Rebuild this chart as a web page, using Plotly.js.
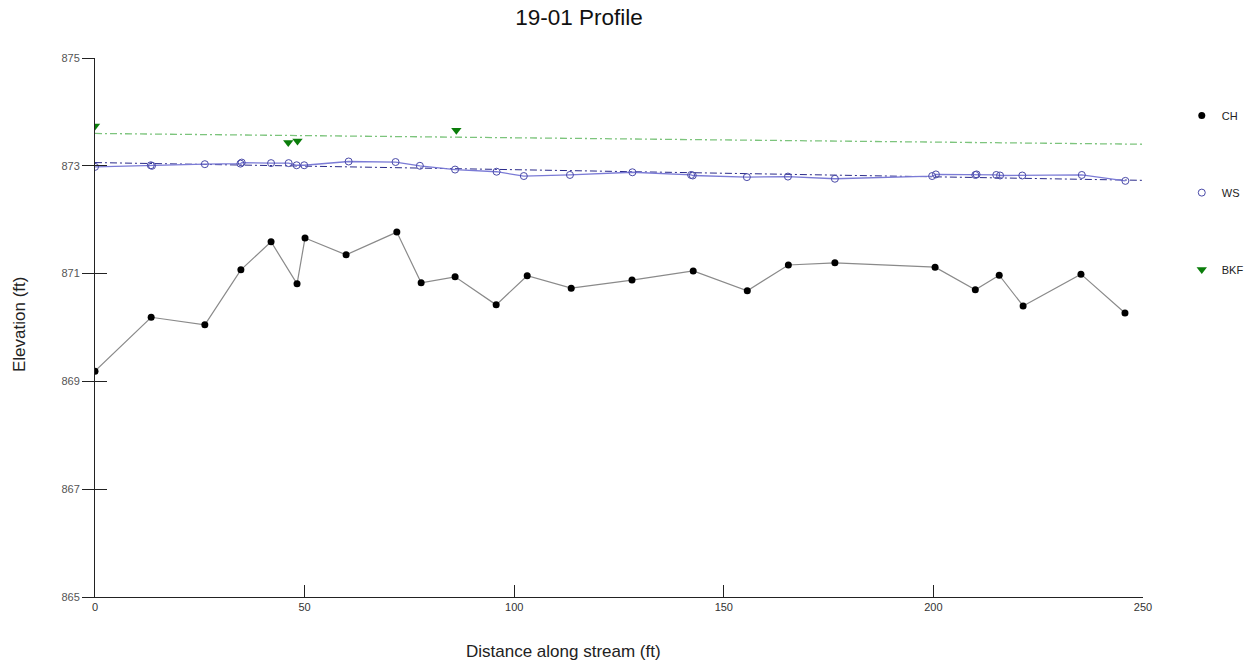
<!DOCTYPE html>
<html>
<head>
<meta charset="utf-8">
<script src="https://cdn.plot.ly/plotly-3.0.1.min.js"></script>
<style>body{margin:0;background:#fff}#chart{width:1247px;height:665px}</style>
</head>
<body>
<div id="chart"></div>
<script>
// Channel bed (CH)
const chX = [0, 13.4, 26.2, 34.8, 42.0, 48.2, 50.1, 59.9, 72.0, 77.8, 85.9, 95.7, 103.1, 113.6, 128.1, 142.7, 155.6, 165.4, 176.5, 200.4, 210.0, 215.7, 221.4, 235.2, 245.7];
const chY = [869.19, 870.19, 870.05, 871.07, 871.59, 870.81, 871.66, 871.35, 871.77, 870.83, 870.94, 870.42, 870.96, 870.73, 870.88, 871.05, 870.68, 871.16, 871.20, 871.12, 870.70, 870.97, 870.40, 870.99, 870.27];
// Water surface (WS)
const wsX = [0, 13.3, 13.6, 26.2, 34.7, 35.0, 42.0, 46.2, 48.1, 49.9, 60.5, 71.7, 77.5, 85.9, 95.8, 102.3, 113.3, 128.2, 142.2, 142.6, 155.5, 165.3, 176.5, 199.7, 200.6, 210.0, 210.3, 215.0, 215.9, 221.2, 235.4, 245.8];
const wsY = [872.98, 873.01, 873.00, 873.03, 873.04, 873.06, 873.05, 873.05, 873.01, 873.01, 873.08, 873.07, 873.00, 872.93, 872.89, 872.81, 872.83, 872.88, 872.83, 872.82, 872.79, 872.80, 872.76, 872.81, 872.84, 872.83, 872.84, 872.83, 872.82, 872.82, 872.83, 872.72];
// Bankfull (BKF)
const bkfX = [0, 46.1, 48.3, 86.2];
const bkfY = [873.74, 873.43, 873.46, 873.66];
// Trend lines
const trendX = [0, 250];
const wsTrendY = [873.06, 872.73];
const bkfTrendY = [873.60, 873.40];
// Axis ticks
const xTicks = [0, 50, 100, 150, 200, 250];
const yTicks = [865, 867, 869, 871, 873, 875];

const font = 'Liberation Sans, Arial, sans-serif';

const traces = [
  {x: trendX, y: bkfTrendY, mode: 'lines', showlegend: false, hoverinfo: 'skip',
   line: {color: '#7cc47c', width: 1.3, dash: '7px,3px,2px,3px'}},
  {x: trendX, y: wsTrendY, mode: 'lines', showlegend: false, hoverinfo: 'skip',
   line: {color: '#2a2a8a', width: 1, dash: '7px,3px,2px,3px'}},
  {x: chX, y: chY, mode: 'lines', showlegend: false, hoverinfo: 'skip',
   line: {color: '#8a8a8a', width: 1.2}},
  {x: wsX, y: wsY, mode: 'lines', showlegend: false, hoverinfo: 'skip',
   line: {color: '#7b7bd6', width: 1.3}},
  {x: chX, y: chY, name: 'CH', mode: 'markers', legendgroup: 'a',
   marker: {color: '#000000', size: 7, symbol: 'circle'}},
  {x: wsX, y: wsY, name: 'WS', mode: 'markers', legendgroup: 'b',
   marker: {color: '#4a4aa8', size: 7, symbol: 'circle-open', line: {width: 1}}},
  {x: bkfX, y: bkfY, name: 'BKF', mode: 'markers', legendgroup: 'c',
   marker: {color: '#0a7d0a', size: 9, symbol: 'triangle-down'}},
  {x: [null], y: [null], yaxis: 'y2', showlegend: false, hoverinfo: 'skip', mode: 'markers'}
];

const layout = {
  width: 1247, height: 665,
  margin: {l: 95, r: 104, t: 58, b: 68, autoexpand: false},
  paper_bgcolor: '#ffffff', plot_bgcolor: '#ffffff',
  font: {family: font, color: '#444', size: 11},
  title: {text: '19-01 Profile', font: {family: font, size: 22.5, color: '#111'},
          x: 579/1247, xref: 'container', xanchor: 'center', y: 1 - 17/665, yref: 'container', yanchor: 'middle'},
  xaxis: {range: [0, 250], tickvals: xTicks, ticktext: xTicks.map(String),
          showgrid: false, zeroline: false, showline: true, linecolor: '#222', linewidth: 1,
          ticks: 'inside', ticklen: 12, tickcolor: '#222', tickwidth: 1,
          tickfont: {family: font, size: 11, color: '#333'}},
  yaxis: {range: [865, 875], tickvals: yTicks, ticktext: yTicks.map(String),
          showgrid: false, zeroline: false, showline: true, linecolor: '#222', linewidth: 1,
          ticks: 'outside', ticklen: 12, tickcolor: '#222', tickwidth: 1,
          tickfont: {family: font, size: 11, color: '#555'}},
  yaxis2: {range: [865, 875], overlaying: 'y', side: 'left', tickvals: yTicks,
           showticklabels: false, showgrid: false, zeroline: false, showline: false,
           ticks: 'inside', ticklen: 12, tickcolor: '#222', tickwidth: 1},
  showlegend: true,
  legend: {x: 1.037, y: 0.92, xanchor: 'left', yanchor: 'top', tracegroupgap: 58,
           font: {family: font, size: 11, color: '#222'}, bgcolor: 'rgba(0,0,0,0)'},
  annotations: [
    {text: 'Distance along stream (ft)', xref: 'paper', yref: 'paper',
     x: (563 - 95) / 1048, y: -(651 - 597) / 539, xanchor: 'center', yanchor: 'middle',
     showarrow: false, font: {family: font, size: 17, color: '#222'}},
    {text: 'Elevation (ft)', xref: 'paper', yref: 'paper', textangle: -90,
     x: (19 - 95) / 1048, y: (597 - 325) / 539, xanchor: 'center', yanchor: 'middle',
     showarrow: false, font: {family: font, size: 17, color: '#222'}}
  ]
};

Plotly.newPlot('chart', traces, layout, {displayModeBar: false, staticPlot: true});
</script>
</body>
</html>
